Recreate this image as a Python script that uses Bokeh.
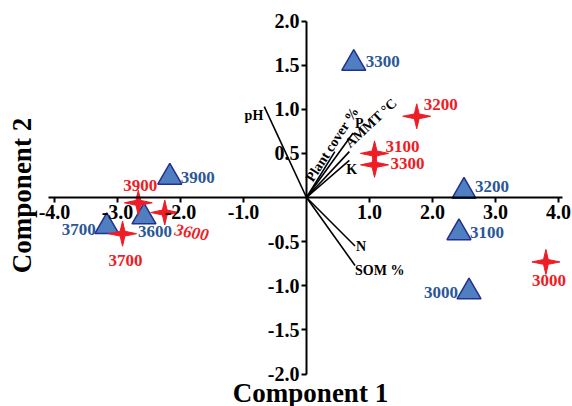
import math
from bokeh.plotting import figure
from bokeh.models import (ColumnDataSource, FixedTicker, NumeralTickFormatter, Range1d, Label)
from bokeh.core.properties import value
from bokeh.embed import file_html
from bokeh.resources import INLINE

# ---- data ----
blue_labels = ["3300", "3200", "3100", "3000", "3900", "3600", "3700"]
blue_x = [0.75, 2.50, 2.42, 2.58, -2.17, -2.58, -3.17]
blue_y = [1.52, 0.07, -0.40, -1.07, 0.23, -0.22, -0.33]

red_labels = ["3200", "3100", "3300", "3000", "3900", "3600", "3700"]
red_x = [1.75, 1.08, 1.08, 3.80, -2.67, -2.25, -2.92]
red_y = [0.92, 0.50, 0.37, -0.73, -0.06, -0.17, -0.41]

vec_names = ["pH", "Plant cover %", "AMMT \u00b0C", "P", "K", "N", "SOM %"]
vec_x = [-0.67, 0.45, 0.68, 0.74, 0.68, 0.77, 0.77]
vec_y = [1.03, 0.52, 0.52, 0.73, 0.42, -0.55, -0.77]

x_ticks = [-4.0, -3.0, -2.0, -1.0, 1.0, 2.0, 3.0, 4.0]
y_ticks = [-2.0, -1.5, -1.0, -0.5, 0.5, 1.0, 1.5, 2.0]

FONT = value("Liberation Serif")
RED = "#ee1c25"
BLUE_TXT = "#2b5797"

W, H = 572, 406
PXX, PXY = 63.0, 88.25       # px per data unit
OX, OY = 306.0, 197.0        # origin position inside the canvas

p = figure(width=W, height=H, output_backend="svg", toolbar_location=None,
           x_range=Range1d(-OX / PXX, (W - OX) / PXX),
           y_range=Range1d(-(H - OY) / PXY, OY / PXY),
           min_border_left=0, min_border_right=0, min_border_top=0, min_border_bottom=0)
p.outline_line_color = None
p.xgrid.visible = False
p.ygrid.visible = False
p.background_fill_color = "white"

for ax, ticks, bnds in ((p.xaxis[0], x_ticks, (-4.1, 4.07)), (p.yaxis[0], y_ticks, (-2.0, 2.0))):
    ax.fixed_location = 0
    ax.bounds = bnds
    ax.ticker = FixedTicker(ticks=ticks)
    ax.formatter = NumeralTickFormatter(format="0.0")
    ax.axis_line_width = 2
    ax.major_tick_line_width = 2
    ax.major_tick_in = 0
    ax.major_tick_out = 5
    ax.minor_tick_line_color = None
    ax.major_label_text_font = "Liberation Serif"
    ax.major_label_text_font_style = "bold"
    ax.major_label_text_font_size = "20px"
    ax.major_label_text_color = "black"
    ax.major_label_standoff = 2

p.add_layout(Label(x=310, y=14, x_units="screen", y_units="screen", text="Component 1",
                   text_align="center", text_baseline="middle", text_font="Liberation Serif",
                   text_font_style="bold", text_font_size="27px", text_color="black"))
p.add_layout(Label(x=21, y=211, x_units="screen", y_units="screen", text="Component 2",
                   angle=math.pi / 2, text_align="center", text_baseline="middle",
                   text_font="Liberation Serif", text_font_style="bold",
                   text_font_size="27px", text_color="black"))

# ---- loading vectors ----
vsrc = ColumnDataSource(dict(x0=[0.0] * len(vec_x), y0=[0.0] * len(vec_y), x1=vec_x, y1=vec_y))
p.segment("x0", "y0", "x1", "y1", source=vsrc, line_color="black", line_width=1.6)

vec_dx = [-1, 0, 3, 2, -3, 1, 0]
vec_dy = [9, 0, -1, -2, 9, 0, 5]
vec_align = ["right", "left", "left", "left", "left", "left", "left"]
vec_base = ["middle", "bottom", "bottom", "bottom", "middle", "middle", "middle"]
vec_ang = [0, 0.995, 0.75, 0, 0, 0, 0]
vec_tx = [vec_x[0], 0.14, vec_x[2], vec_x[3], vec_x[4], vec_x[5], vec_x[6]]
vec_ty = [vec_y[0], 0.15, vec_y[2], vec_y[3], vec_y[4], vec_y[5], vec_y[6]]
vlab = ColumnDataSource(dict(x=vec_tx, y=vec_ty, t=vec_names, dx=vec_dx, dy=vec_dy,
                             a=vec_align, b=vec_base, ang=vec_ang))
p.text("x", "y", text="t", source=vlab, x_offset="dx", y_offset="dy", angle="ang",
       text_align="a", text_baseline="b", text_font=FONT, text_font_style="bold",
       text_font_size="14px", text_color="black")

# ---- blue triangles ----
bsrc = ColumnDataSource(dict(x=blue_x, y=blue_y, t=blue_labels))
p.scatter("x", "y", source=bsrc, marker="triangle", size=24, fill_color="#4f7fc0",
          line_color="#23308f", line_width=1.5)
b_dx = [12, 11, 11, -11, 11, -6, -11]
b_dy = [-2, -5, 0, 1, 0, 15, 3]
b_al = ["left", "left", "left", "right", "left", "left", "right"]
bl = ColumnDataSource(dict(x=blue_x, y=blue_y, t=blue_labels, dx=b_dx, dy=b_dy, a=b_al))
p.text("x", "y", text="t", source=bl, x_offset="dx", y_offset="dy", text_align="a",
       text_baseline="middle", text_font=FONT, text_font_style="bold",
       text_font_size="17px", text_color=BLUE_TXT)

# ---- red four-point stars (shape built around each data point) ----
outer_x, outer_y, inner = 14.0, 12.5, 3.4
star_xs, star_ys = [], []
for cx, cy in zip(red_x, red_y):
    xs, ys = [], []
    for k in range(8):
        ang = math.pi / 2 - k * math.pi / 4
        if k % 2 == 0:
            r_x = outer_x * math.cos(ang)
            r_y = outer_y * math.sin(ang)
        else:
            r_x = inner * math.cos(ang)
            r_y = inner * math.sin(ang)
        xs.append(cx + r_x / PXX)
        ys.append(cy + r_y / PXY)
    star_xs.append(xs)
    star_ys.append(ys)
p.patches(star_xs, star_ys, fill_color=RED, line_color=RED, line_width=1)

r_dx = [7, 11, 16, 3, 2, 27, 3]
r_dy = [-12, -7, -1, 19, -17, 20, 27]
r_al = ["left", "left", "left", "center", "center", "center", "center"]
r_style = ["bold", "bold", "bold", "bold", "bold", "bold italic", "bold"]
r_ang = [0, 0, 0, 0, 0, -0.17, 0]
rl = ColumnDataSource(dict(x=red_x, y=red_y, t=red_labels, dx=r_dx, dy=r_dy, a=r_al,
                           s=r_style, ang=r_ang))
p.text("x", "y", text="t", source=rl, x_offset="dx", y_offset="dy", text_align="a",
       angle="ang", text_baseline="middle", text_font=FONT, text_font_style="s",
       text_font_size="17px", text_color=RED)

open("out.html", "w").write(file_html(p, INLINE))
